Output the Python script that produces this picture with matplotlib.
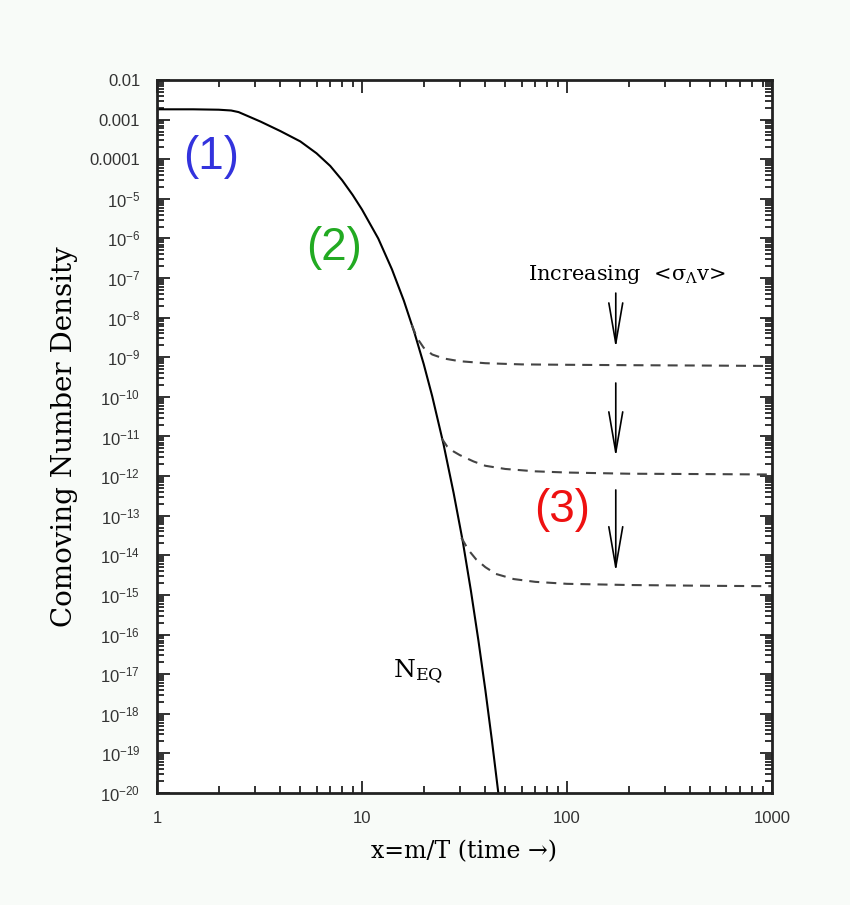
import matplotlib
matplotlib.use('Agg')
import matplotlib.pyplot as plt
import numpy as np

# equilibrium curve N_EQ (log10 of density)
x_eq = [1, 1.5, 2, 2.3, 2.5, 2.8, 3.2, 4, 5, 6, 7, 8, 9, 10, 12, 14, 16, 18, 20,
        22, 25, 28, 31, 34, 37, 40, 43, 46.5]
logy_eq = [-2.74, -2.74, -2.75, -2.77, -2.81, -2.92, -3.05, -3.29, -3.55, -3.85, -4.17,
           -4.53, -4.9, -5.27, -6.0, -6.78, -7.57, -8.37, -9.17, -9.98, -11.2,
           -12.43, -13.64, -14.9, -16.16, -17.41, -18.66, -20.1]

# freeze-out curves for increasing <sigma v>
x_fo1 = [17.5, 18.5, 20, 22, 25, 30, 40, 60, 100, 200, 500, 1000]
logy_fo1 = [-8.18, -8.5, -8.76, -8.93, -9.03, -9.1, -9.15, -9.18, -9.19, -9.2, -9.21, -9.22]
x_fo2 = [24.5, 26, 28, 30, 35, 40, 50, 70, 100, 200, 500, 1000]
logy_fo2 = [-11.05, -11.25, -11.38, -11.47, -11.63, -11.74, -11.82, -11.88, -11.91, -11.94, -11.95, -11.96]
x_fo3 = [30.5, 33, 36, 40, 45, 55, 70, 100, 200, 500, 1000]
logy_fo3 = [-13.55, -13.86, -14.1, -14.3, -14.47, -14.6, -14.67, -14.72, -14.75, -14.77, -14.78]

y_ticks = [10.0 ** k for k in range(-20, -1)]
y_ticklabels = ['$10^{%d}$' % k for k in range(-20, -4)] + ['0.0001', '0.001', '0.01']
x_ticks = [1, 10, 100, 1000]
x_ticklabels = ['1', '10', '100', '1000']

plt.rcParams['mathtext.fontset'] = 'custom'
plt.rcParams['mathtext.rm'] = 'Liberation Sans'
plt.rcParams['mathtext.it'] = 'DejaVu Serif:italic'
plt.rcParams['mathtext.default'] = 'regular'

fig = plt.figure(figsize=(8.5, 9.05), dpi=100, facecolor='#f8fbf8')
ax = fig.add_axes([0.1847, 0.1238, 0.7235, 0.7878])
ax.set_facecolor('white')

ax.plot(x_eq, 10.0 ** np.array(logy_eq), color='black', lw=1.5)
for xs, ls in [(x_fo1, logy_fo1), (x_fo2, logy_fo2), (x_fo3, logy_fo3)]:
    ax.plot(xs, 10.0 ** np.array(ls), color='#444444', lw=1.5, dashes=(4.8, 3.4))

ax.set_xscale('log')
ax.set_yscale('log')
ax.set_xlim(1, 1000)
ax.set_ylim(1e-20, 1e-2)
ax.set_xticks(x_ticks)
ax.set_xticklabels(x_ticklabels)
ax.set_yticks(y_ticks)
ax.set_yticklabels(y_ticklabels)
ax.yaxis.set_minor_locator(matplotlib.ticker.LogLocator(base=10, subs=np.arange(2, 10), numticks=50))
ax.yaxis.set_minor_formatter(matplotlib.ticker.NullFormatter())
ax.tick_params(which='both', direction='in', top=True, right=True, width=1.3, color='#222222')
ax.tick_params(which='major', length=9, labelsize=12, labelcolor='#333333')
ax.tick_params(axis='x', which='major', pad=13)
ax.tick_params(axis='y', which='major', pad=12)
ax.tick_params(which='minor', length=5)
for lab in ax.get_xticklabels() + ax.get_yticklabels():
    lab.set_fontfamily('Liberation Sans')
for sp in ax.spines.values():
    sp.set_linewidth(2)
    sp.set_color('#222222')

ax.set_xlabel('x=m/T (time \u2192)', fontsize=17, family='DejaVu Serif', labelpad=10)
ax.set_ylabel('Comoving Number Density', fontsize=20, family='DejaVu Serif', labelpad=8)

# region labels
ax.text(1.83, 1.15e-4, '(1)', fontsize=33, color='#3333dd', family='Liberation Sans', ha='center', va='center')
ax.text(7.3, 5.8e-7, '(2)', fontsize=33, color='#22aa22', family='Liberation Sans', ha='center', va='center')
ax.text(94.6, 1.4e-13, '(3)', fontsize=33, color='#ee1111', family='Liberation Sans', ha='center', va='center')
ax.text(14.2, 2.7e-17, r'N$_{EQ}$', fontsize=18, family='DejaVu Serif', ha='left', va='top')
ax.text(196, 1.2e-7, r'Increasing  <$\sigma_{\Lambda}$v>', fontsize=15, family='DejaVu Serif', ha='center', va='center')

# arrows showing increasing cross section
arrow_x = 173
arrow_top = [10 ** -7.38, 10 ** -9.65, 10 ** -12.35]
arrow_tip = [10 ** -8.77, 10 ** -11.52, 10 ** -14.42]
for yt, yb in zip(arrow_top, arrow_tip):
    ax.annotate('', xy=(arrow_x, yb), xytext=(arrow_x, yt),
                arrowprops=dict(arrowstyle='->,head_length=1.45,head_width=0.25',
                                lw=1.2, color='black', mutation_scale=20,
                                shrinkA=0, shrinkB=0))

plt.savefig('out.png', dpi=100, facecolor=fig.get_facecolor())
